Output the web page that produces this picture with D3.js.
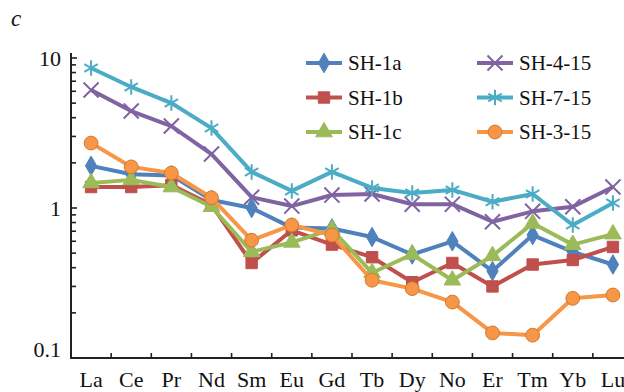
<!DOCTYPE html>
<html>
<head>
<meta charset="utf-8">
<script src="https://cdn.jsdelivr.net/npm/d3@7"></script>
<style>
  body { margin: 0; background: #fff; }
  svg text { font-family: "Times New Roman", "Liberation Serif", Tinos, Times, serif; fill: #111; }
</style>
</head>
<body>
<div class="chart"></div>
<script>
// REE elements (x categories)
const elements = ['La', 'Ce', 'Pr', 'Nd', 'Sm', 'Eu', 'Gd', 'Tb', 'Dy', 'No', 'Er', 'Tm', 'Yb', 'Lu'];

const sh1a  = [1.91, 1.68, 1.65, 1.13, 1.00, 0.74, 0.73, 0.64, 0.49, 0.60, 0.38, 0.66, 0.51, 0.42];
const sh1b  = [1.38, 1.38, 1.42, 1.05, 0.43, 0.71, 0.57, 0.47, 0.32, 0.43, 0.30, 0.42, 0.45, 0.55];
const sh1c  = [1.47, 1.54, 1.38, 1.02, 0.51, 0.59, 0.72, 0.37, 0.49, 0.33, 0.48, 0.79, 0.57, 0.67];
const sh415 = [6.12, 4.43, 3.52, 2.29, 1.18, 1.03, 1.22, 1.24, 1.06, 1.06, 0.81, 0.95, 1.02, 1.38];
const sh715 = [8.58, 6.41, 5.01, 3.41, 1.74, 1.30, 1.74, 1.36, 1.26, 1.32, 1.10, 1.24, 0.77, 1.08];
const sh315 = [2.71, 1.88, 1.71, 1.17, 0.61, 0.77, 0.66, 0.33, 0.29, 0.236, 0.147, 0.142, 0.25, 0.263];

const yTicks = [0.1, 1, 10];

const series = [
  { name: 'SH-1a',  values: sh1a,  color: '#4F81BD', shape: 'diamond' },
  { name: 'SH-1b',  values: sh1b,  color: '#C0504D', shape: 'square' },
  { name: 'SH-1c',  values: sh1c,  color: '#9BBB59', shape: 'triangle' },
  { name: 'SH-4-15', values: sh415, color: '#8064A2', shape: 'times' },
  { name: 'SH-7-15', values: sh715, color: '#4BACC6', shape: 'asterisk' },
  { name: 'SH-3-15', values: sh315, color: '#F79646', shape: 'circle' }
];
// draw order, so orange and teal sit on top like the original
const drawOrder = [3, 4, 0, 1, 2, 5];

const width = 624, height = 392;
const margin = { top: 58, right: -9, bottom: 34, left: 71 };

const svg = d3.select('.chart').append('svg')
  .attr('width', width)
  .attr('height', height);

const x = d3.scaleBand()
  .domain(elements)
  .range([margin.left, width - margin.right]);

const y = d3.scaleLog()
  .domain([0.1, 10])
  .range([height - margin.bottom, margin.top]);

const cx = d => x(d) + x.bandwidth() / 2;

// title letter
svg.append('text')
  .attr('x', 11).attr('y', 26)
  .style('font-size', '23px')
  .style('font-style', 'italic')
  .text('c');

// axes
const axisColor = '#222';
const minorTicks = [];
for (let dec of [0.1, 1]) {
  for (let k = 2; k <= 9; k++) minorTicks.push(+(dec * k).toFixed(2));
}

const yAxis = svg.append('g').attr('class', 'y axis');
yAxis.append('line')
  .attr('x1', margin.left).attr('x2', margin.left)
  .attr('y1', y(10) - 5).attr('y2', y(0.1))
  .attr('stroke', axisColor).attr('stroke-width', 2);
yAxis.selectAll('.minor').data(minorTicks).enter().append('line')
  .attr('x1', margin.left).attr('x2', margin.left + 5)
  .attr('y1', d => y(d)).attr('y2', d => y(d))
  .attr('stroke', axisColor).attr('stroke-width', 1.6);
yAxis.selectAll('.major').data(yTicks).enter().append('line')
  .attr('x1', margin.left).attr('x2', margin.left + 6)
  .attr('y1', d => y(d)).attr('y2', d => y(d))
  .attr('stroke', axisColor).attr('stroke-width', 1.6);
yAxis.selectAll('text').data(yTicks).enter().append('text')
  .attr('x', margin.left - 10)
  .attr('y', d => y(d))
  .attr('dy', d => d === 0.1 ? '-0.05em' : '0.35em')
  .attr('text-anchor', 'end')
  .style('font-size', '22px')
  .text(d => d);

const xAxis = svg.append('g').attr('class', 'x axis');
xAxis.append('line')
  .attr('x1', margin.left - 1).attr('x2', width)
  .attr('y1', y(0.1)).attr('y2', y(0.1))
  .attr('stroke', axisColor).attr('stroke-width', 2);
xAxis.selectAll('.tick').data(elements.slice(1)).enter().append('line')
  .attr('x1', d => x(d)).attr('x2', d => x(d))
  .attr('y1', y(0.1)).attr('y2', y(0.1) - 5)
  .attr('stroke', axisColor).attr('stroke-width', 1.6);
xAxis.selectAll('text').data(elements).enter().append('text')
  .attr('x', d => cx(d))
  .attr('y', y(0.1) + 29)
  .attr('text-anchor', 'middle')
  .style('font-size', '22px')
  .text(d => d);

// markers
const symbolType = {
  diamond: d3.symbolDiamond,
  square: d3.symbolSquare,
  triangle: d3.symbolTriangle,
  times: d3.symbolTimes,
  asterisk: d3.symbolAsterisk,
  circle: d3.symbolCircle
};
const symbolSize = { diamond: 110, square: 130, triangle: 120, times: 150, asterisk: 170, circle: 150 };

function drawMarker(g, s, px, py) {
  const path = d3.symbol().type(symbolType[s.shape]).size(symbolSize[s.shape])();
  const stroked = s.shape === 'times' || s.shape === 'asterisk';
  g.append('path')
    .attr('d', path)
    .attr('transform', 'translate(' + px + ',' + py + ')')
    .attr('fill', stroked ? 'none' : s.color)
    .attr('stroke', stroked ? s.color : (s.shape === 'circle' ? '#D07A2E' : s.color))
    .attr('stroke-width', stroked ? 2 : 1);
}

const line = d3.line()
  .x((d, i) => cx(elements[i]))
  .y(d => y(d));

const plot = svg.append('g').attr('class', 'plot');
drawOrder.forEach(idx => {
  const s = series[idx];
  const g = plot.append('g');
  g.append('path')
    .attr('d', line(s.values))
    .attr('fill', 'none')
    .attr('stroke', s.color)
    .attr('stroke-width', 4)
    .attr('stroke-linejoin', 'round');
  s.values.forEach((v, i) => drawMarker(g, s, cx(elements[i]), y(v)));
});

// legend
const legend = svg.append('g').attr('class', 'legend');
series.forEach((s, i) => {
  const col = Math.floor(i / 3), row = i % 3;
  const lx = 306 + col * 171, ly = 63 + row * 34.5;
  const g = legend.append('g');
  g.append('line')
    .attr('x1', lx).attr('x2', lx + 36)
    .attr('y1', ly).attr('y2', ly)
    .attr('stroke', s.color).attr('stroke-width', 4);
  drawMarker(g, s, lx + 18, ly);
  g.append('text')
    .attr('x', lx + 42).attr('y', ly)
    .attr('dy', '0.35em')
    .style('font-size', '21px')
    .text(s.name);
});
</script>
</body>
</html>
